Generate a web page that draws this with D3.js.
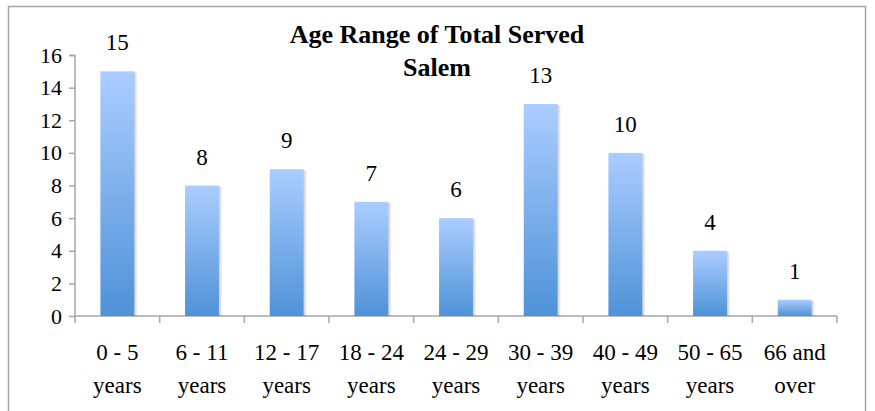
<!DOCTYPE html>
<html><head><meta charset="utf-8">
<script src="https://cdn.jsdelivr.net/npm/d3@7"></script>
</head><body style="margin:0;background:#fff"><svg id="c" width="875" height="411" style="display:block"></svg>
<script>
const categories = [["0 - 5","years"],["6 - 11","years"],["12 - 17","years"],["18 - 24","years"],["24 - 29","years"],["30 - 39","years"],["40 - 49","years"],["50 - 65","years"],["66 and","over"]];
const values = [15,8,9,7,6,13,10,4,1];
const yTicks = [0,2,4,6,8,10,12,14,16];
const titleLines = ["Age Range of Total Served","Salem"];
const FF = "'Liberation Serif', 'Times New Roman', Tinos, serif";

const svg = d3.select("#c");
svg.append("rect").attr("x",8.5).attr("y",6.5).attr("width",857).attr("height",420).attr("fill","#fff").attr("stroke","#a6a6a6").attr("stroke-width",1.5);

const defs = svg.append("defs");
const g = defs.append("linearGradient").attr("id","bg").attr("x1",0).attr("y1",0).attr("x2",0).attr("y2",1);
g.append("stop").attr("offset","0%").attr("stop-color","#abcdff");
g.append("stop").attr("offset","100%").attr("stop-color","#4e92d8");

const x = d3.scaleBand().domain(d3.range(values.length)).range([75,837]).paddingInner(0.6).paddingOuter(0.3);
const y = d3.scaleLinear().domain([0,16]).range([316,55]);

const ya = svg.append("g").attr("transform","translate(75,0)").call(d3.axisLeft(y).tickValues(yTicks).tickSize(6).tickPadding(7));
ya.attr("font-family",null).style("font-family",FF);
ya.select(".domain").attr("stroke","#a6a6a6").attr("stroke-width",1.5).attr("d","M-6,55.5H0V316");
ya.selectAll(".tick line").attr("stroke","#a6a6a6").attr("stroke-width",1.5);
ya.selectAll(".tick text").attr("font-size",22).attr("fill","#000").style("font-family",FF);

const bw = 762/values.length;
const xa = svg.append("g");
xa.append("line").attr("x1",75).attr("x2",837).attr("y1",316).attr("y2",316).attr("stroke","#a6a6a6").attr("stroke-width",1.5);
xa.selectAll("line.t").data(d3.range(values.length+1)).enter().append("line")
  .attr("x1",i=>75+i*bw).attr("x2",i=>75+i*bw).attr("y1",316).attr("y2",323).attr("stroke","#a6a6a6").attr("stroke-width",1.5);

// soft shadow
[3,2,1].forEach(o=>{
  svg.selectAll(null).data(values).enter().append("rect")
    .attr("x",(d,i)=>x(i)+o).attr("width",x.bandwidth()).attr("y",d=>y(d)+o*0.5).attr("height",d=>316-y(d)-o*0.5)
    .attr("fill","#000").attr("opacity",0.06);
});
svg.selectAll("rect.bar").data(values).enter().append("rect").attr("class","bar")
  .attr("x",(d,i)=>x(i)).attr("width",x.bandwidth()).attr("y",d=>y(d)).attr("height",d=>316-y(d))
  .attr("fill","url(#bg)");

svg.selectAll("text.v").data(values).enter().append("text").style("font-family",FF)
  .attr("x",(d,i)=>x(i)+x.bandwidth()/2).attr("y",d=>y(d)-21).attr("text-anchor","middle").attr("font-size",23).text(d=>d);

categories.forEach((c,i)=>{
  const cx = 75+(i+0.5)*bw;
  c.forEach((t,j)=>svg.append("text").style("font-family",FF).attr("x",cx).attr("y",360+j*33).attr("text-anchor","middle").attr("font-size",23).text(t));
});

titleLines.forEach((t,j)=>svg.append("text").style("font-family",FF).attr("x",437).attr("y",43+j*33).attr("text-anchor","middle").attr("font-size",26).attr("font-weight","bold").text(t));
</script></body></html>
